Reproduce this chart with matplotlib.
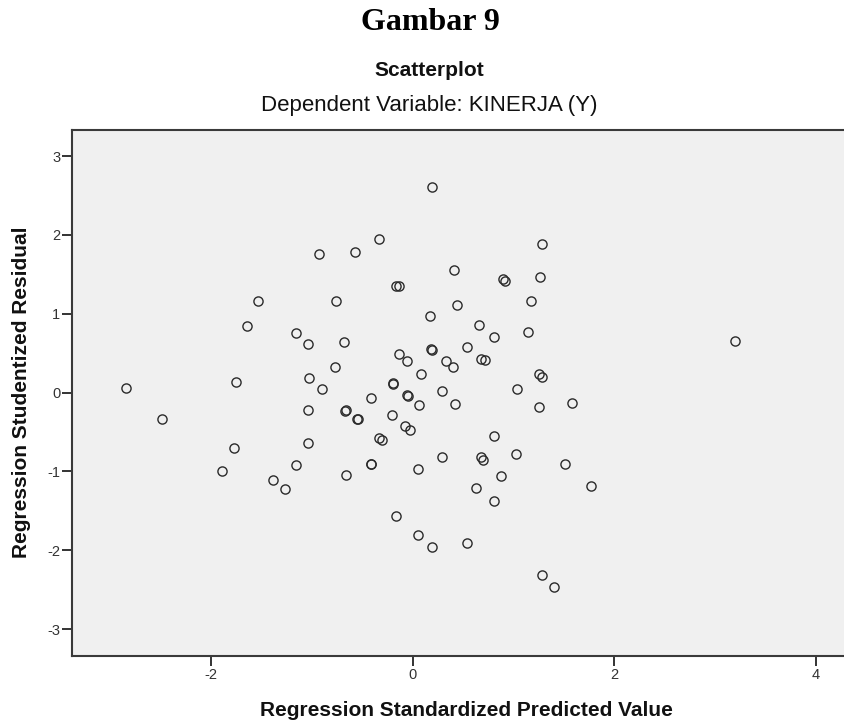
import matplotlib.pyplot as plt

plt.rcParams["axes.unicode_minus"] = False

# Predicted (standardized) vs studentized residual
pred = [0.19, -0.33, -0.93, -0.57, 0.41, -0.17, -0.14, -1.53, -0.76, 0.44,
        0.17, -1.64, -1.16, -1.04, -0.68, 0.18, 0.19, -0.14, -0.06, 0.33,
        0.40, 0.08, -0.77, -1.03, -0.90, -1.75, -2.84, -0.19, -0.19, -0.06,
        -0.05, -0.41, 0.29, 0.06, 0.42, -2.49, -1.04, -0.66, -0.67, -0.54,
        -0.55, -0.20, -0.08, -0.03, -0.33, -0.30, -1.04, -1.77, 0.29, -0.41,
        -0.41, -1.16, -1.89, 0.05, -0.66, -1.39, -1.27, -0.17, 0.05, 0.19,
        1.28, 0.90, 0.92, 1.26, 1.17, 0.66, 1.14, 0.81, 0.54, 0.68,
        0.72, 1.25, 1.28, 3.20, 1.04, 1.25, 1.58, 0.81, 0.68, 0.70,
        1.03, 1.51, 0.88, 0.63, 0.81, 1.77, 0.54, 1.28, 1.40]
resid = [2.61, 1.95, 1.76, 1.78, 1.55, 1.35, 1.35, 1.16, 1.16, 1.11,
         0.97, 0.85, 0.76, 0.62, 0.64, 0.55, 0.54, 0.49, 0.40, 0.40,
         0.32, 0.24, 0.32, 0.18, 0.04, 0.13, 0.06, 0.11, 0.12, -0.03,
         -0.04, -0.07, 0.02, -0.16, -0.14, -0.33, -0.22, -0.22, -0.23, -0.33,
         -0.34, -0.29, -0.42, -0.48, -0.57, -0.60, -0.64, -0.70, -0.82, -0.90,
         -0.91, -0.92, -0.99, -0.97, -1.05, -1.11, -1.22, -1.57, -1.81, -1.96,
         1.88, 1.44, 1.42, 1.47, 1.16, 0.86, 0.77, 0.71, 0.58, 0.43,
         0.41, 0.24, 0.20, 0.66, 0.04, -0.18, -0.13, -0.55, -0.82, -0.85,
         -0.78, -0.90, -1.06, -1.21, -1.38, -1.18, -1.91, -2.31, -2.46]

xticks = [-2, 0, 2, 4]
yticks = [-3, -2, -1, 0, 1, 2, 3]

W, H = 844, 722
fig = plt.figure(figsize=(W / 100, H / 100), dpi=100)
fig.patch.set_facecolor("white")

# axes box in pixels: left 72, right 844 (cut at the edge), top 130, bottom 656
ax = fig.add_axes([72 / W, (H - 656) / H, (W - 72) / W, (656 - 130) / H])
ax.set_facecolor("#f0f0f0")

ax.plot(pred, resid, linestyle="none", marker="o", markersize=6.6,
        markerfacecolor="none", markeredgecolor="#2a2a2a", markeredgewidth=1.0)

ax.set_xlim(-3.38, 4.28)
ax.set_ylim(-3.34, 3.33)
ax.set_xticks(xticks)
ax.set_yticks(yticks)
ax.tick_params(direction="out", length=7, width=1.4, color="#333333",
               labelsize=10.5, labelcolor="#333333", pad=1.5,
               labelfontfamily="Liberation Sans")

for side in ["left", "bottom", "top"]:
    ax.spines[side].set_color("#3a3a3a")
    ax.spines[side].set_linewidth(1.5)
ax.spines["right"].set_visible(False)

# titles
fig.text(430 / W, 1 - 22 / H, "Gambar 9", ha="center", va="center",
         fontsize=23, fontweight="bold", family="Liberation Serif")
fig.text(429 / W, 1 - 70 / H, "Scatterplot", ha="center", va="center",
         fontsize=15, fontweight="bold", family="Liberation Sans", color="#111111")
fig.text(429 / W, 1 - 106 / H, "Dependent Variable: KINERJA (Y)", ha="center",
         va="center", fontsize=16, family="Liberation Sans", color="#111111")

# axis labels
fig.text(466 / W, 1 - 711 / H, "Regression Standardized Predicted Value",
         ha="center", va="center", fontsize=15, fontweight="bold",
         family="Liberation Sans", color="#111111")
fig.text(22 / W, 1 - 392 / H, "Regression Studentized Residual",
         ha="center", va="center", rotation=90, fontsize=15, fontweight="bold",
         family="Liberation Sans", color="#111111")

fig.savefig("out.png", dpi=100)
